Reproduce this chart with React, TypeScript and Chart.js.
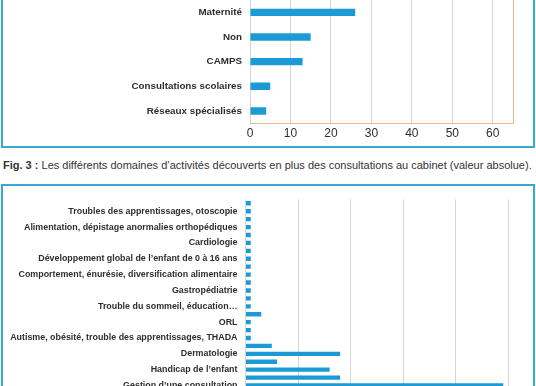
import React, { useEffect, useRef } from 'react';
import { Chart, registerables } from 'chart.js';

Chart.register(...registerables);

// ---------- data ----------
const topCategories = ['Maternité', 'Non', 'CAMPS', 'Consultations scolaires', 'Réseaux spécialisés'];
const topValues = [26, 15, 13, 5, 4];
const topMax = 65;
const topTicks = [0, 10, 20, 30, 40, 50, 60];

const bottomCategories = [
  '',
  'Troubles des apprentissages, otoscopie',
  '',
  'Alimentation, dépistage anormalies orthopédiques',
  '',
  'Cardiologie',
  '',
  'Développement global de l’enfant de 0 à 16 ans',
  '',
  'Comportement, énurésie, diversification alimentaire',
  '',
  'Gastropédiatrie',
  '',
  'Trouble du sommeil, éducation…',
  '',
  'ORL',
  '',
  'Autisme, obésité, trouble des apprentissages, THADA',
  '',
  'Dermatologie',
  '',
  'Handicap de l’enfant',
  '',
  'Gestion d’une consultation',
];
const bottomValues = [1, 1, 1, 1, 1, 1, 1, 1, 1, 1, 1, 1, 1, 1, 3, 1, 1, 1, 5, 18, 6, 16, 18, 49];
const bottomMax = 50;
const bottomTicks = [0, 10, 20, 30, 40, 50];

const captionBold = 'Fig. 3 :';
const captionText = ' Les différents domaines d’activités découverts en plus des consultations au cabinet (valeur absolue).';

// ---------- style ----------
const SANS = "'Liberation Sans', Arial, sans-serif";
const BLUE = '#1c9ad6';
const BOX = '#3aa8d6';
const ORANGE = '#e8b98f';
const GRID = '#d5d5d5';
const TEXT = '#2e2e2e';

const framePlugin = {
  id: 'frame',
  afterDraw(chart: any, _args: any, opts: any) {
    if (!opts || !opts.color) return;
    const { ctx, chartArea: a } = chart;
    ctx.save();
    ctx.strokeStyle = opts.color;
    ctx.lineWidth = 1;
    ctx.beginPath();
    ctx.moveTo(Math.round(a.right) + 0.5, a.top);
    ctx.lineTo(Math.round(a.right) + 0.5, Math.round(a.bottom) + 0.5);
    ctx.lineTo(a.left, Math.round(a.bottom) + 0.5);
    ctx.stroke();
    ctx.restore();
  },
};

type HBarProps = {
  labels: string[];
  values: number[];
  max: number;
  ticks: number[];
  width: number;
  height: number;
  left: number;
  top: number;
  yWidth: number;
  xHeight: number;
  padding: any;
  labelSize: number;
  barPercentage: number;
  frame: boolean;
};

function HBar(p: HBarProps) {
  const ref = useRef<HTMLCanvasElement>(null);
  useEffect(() => {
    const chart = new Chart(ref.current as HTMLCanvasElement, {
      type: 'bar',
      data: {
        labels: p.labels,
        datasets: [
          {
            data: p.values,
            backgroundColor: BLUE,
            barPercentage: p.barPercentage,
            categoryPercentage: 1,
          },
        ],
      },
      options: {
        indexAxis: 'y',
        animation: false,
        responsive: false,
        maintainAspectRatio: false,
        layout: { padding: p.padding },
        plugins: {
          legend: { display: false },
          tooltip: { enabled: false },
          // @ts-ignore
          frame: p.frame ? { color: ORANGE } : { color: null },
        },
        scales: {
          x: {
            min: 0,
            max: p.max,
            afterBuildTicks: (s: any) => {
              s.ticks = p.ticks.map((v) => ({ value: v }));
            },
            afterFit: (s: any) => {
              s.height = p.xHeight;
            },
            ticks: {
              color: TEXT,
              font: { family: SANS, size: 12 },
              padding: 3,
            },
            grid: { color: GRID, drawTicks: false, lineWidth: 1 },
            border: { display: false },
          },
          y: {
            afterFit: (s: any) => {
              s.width = p.yWidth;
            },
            ticks: {
              autoSkip: false,
              color: TEXT,
              font: { family: SANS, size: p.labelSize, weight: 'bold' },
              padding: 8,
            },
            grid: { display: false, drawTicks: false },
            border: { display: false },
          },
        },
      },
      plugins: [framePlugin as any],
    });
    return () => chart.destroy();
  }, []);
  return (
    <canvas
      ref={ref}
      width={p.width}
      height={p.height}
      style={{ position: 'absolute', left: p.left, top: p.top, width: p.width, height: p.height }}
    />
  );
}

export default function App() {
  return (
    <div
      style={{
        position: 'absolute',
        left: 0,
        top: 0,
        width: 536,
        height: 386,
        overflow: 'hidden',
        background: '#ffffff',
      }}
    >
      {/* top figure box */}
      <div
        style={{
          position: 'absolute',
          left: 1,
          top: -10,
          width: 534,
          height: 158,
          boxSizing: 'border-box',
          border: `2px solid ${BOX}`,
        }}
      />
      <HBar
        labels={topCategories}
        values={topValues}
        max={topMax}
        ticks={topTicks}
        width={536}
        height={162}
        left={0}
        top={-20}
        yWidth={250}
        xHeight={18.7}
        padding={{ top: 20, right: 23, left: 0, bottom: 0 }}
        labelSize={9.8}
        barPercentage={0.3}
        frame={true}
      />
      {/* caption */}
      <div
        style={{
          position: 'absolute',
          left: 3,
          top: 158,
          whiteSpace: 'nowrap',
          fontFamily: SANS,
          fontSize: 11,
          lineHeight: '14px',
          color: '#333333',
        }}
      >
        <b>{captionBold}</b>
        {captionText}
      </div>
      {/* bottom figure box */}
      <div
        style={{
          position: 'absolute',
          left: 1,
          top: 184,
          width: 534,
          height: 300,
          boxSizing: 'border-box',
          border: `2px solid ${BOX}`,
        }}
      />
      <HBar
        labels={bottomCategories}
        values={bottomValues}
        max={bottomMax}
        ticks={bottomTicks}
        width={536}
        height={240}
        left={0}
        top={186}
        yWidth={245.5}
        xHeight={36.5}
        padding={{ top: 10.5, right: 27.5, left: 0, bottom: 0 }}
        labelSize={8.9}
        barPercentage={0.55}
        frame={false}
      />
    </div>
  );
}
